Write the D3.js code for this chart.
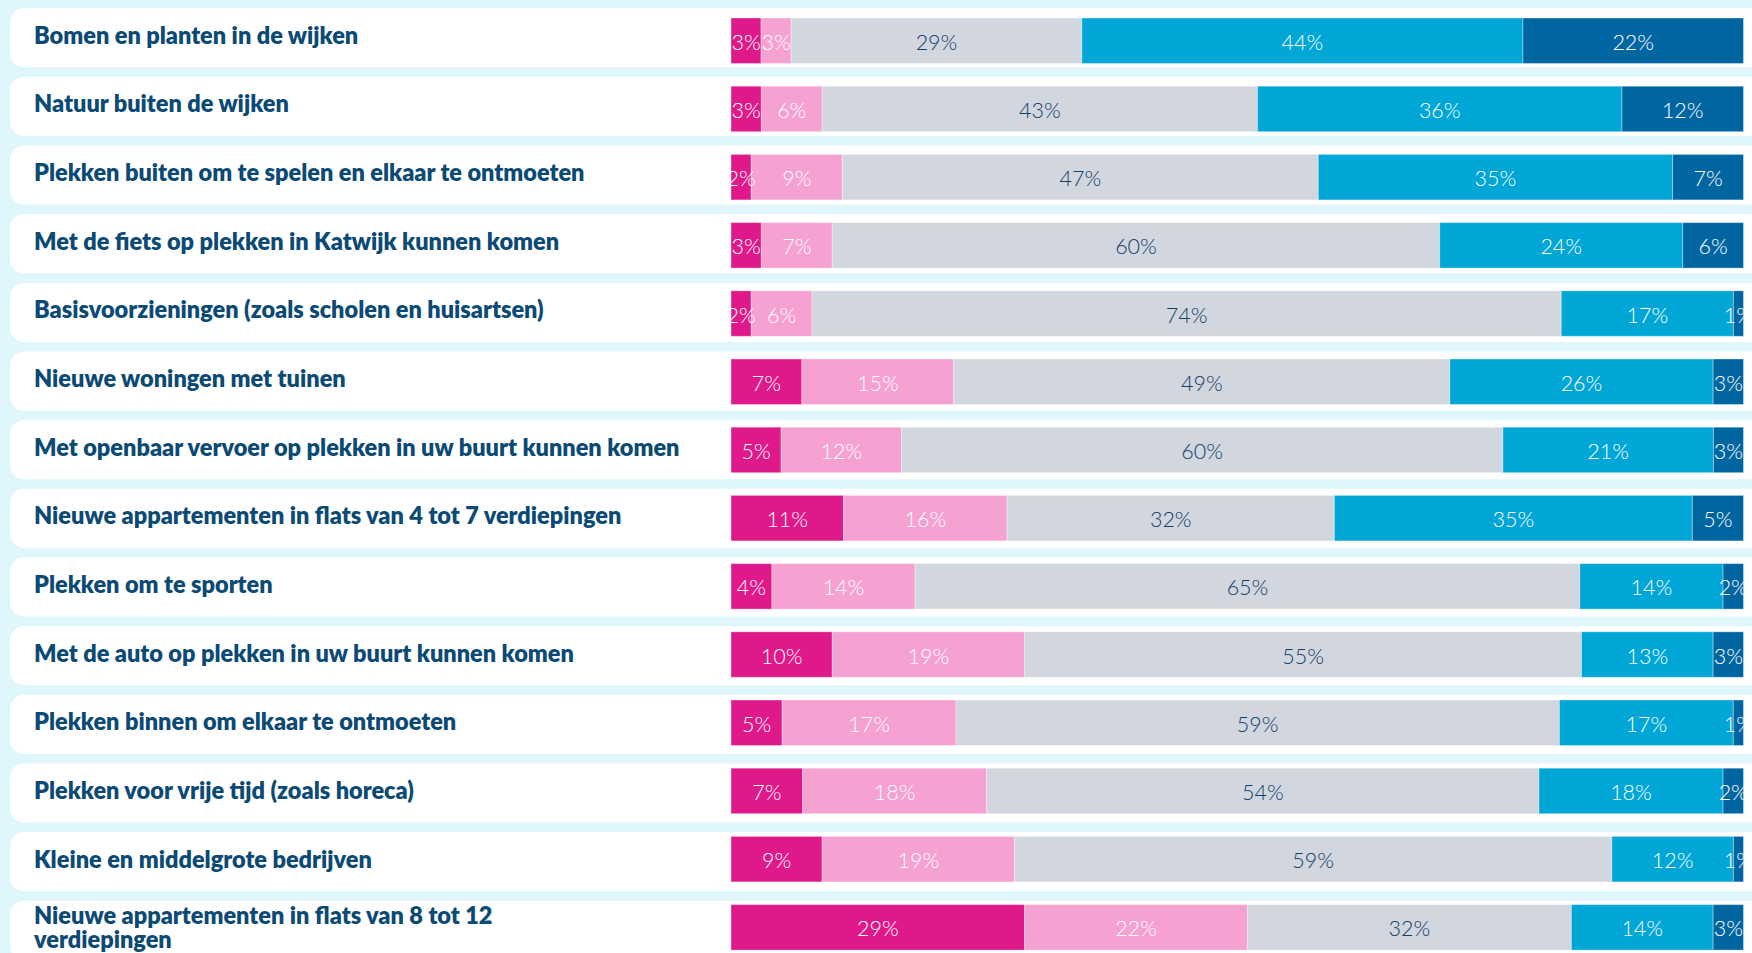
<!DOCTYPE html>
<html>
<head>
<meta charset="utf-8">
<script src="https://cdn.jsdelivr.net/npm/d3@7"></script>
<style>
  html, body { margin: 0; padding: 0; background: #e0f6fd; overflow: hidden; }
  svg { display: block; }
</style>
</head>
<body>
<svg></svg>
<script>
// rows, top to bottom
let categories = [
  'Bomen en planten in de wijken',
  'Natuur buiten de wijken',
  'Plekken buiten om te spelen en elkaar te ontmoeten',
  'Met de fiets op plekken in Katwijk kunnen komen',
  'Basisvoorzieningen (zoals scholen en huisartsen)',
  'Nieuwe woningen met tuinen',
  'Met openbaar vervoer op plekken in uw buurt kunnen komen',
  'Nieuwe appartementen in flats van 4 tot 7 verdiepingen',
  'Plekken om te sporten',
  'Met de auto op plekken in uw buurt kunnen komen',
  'Plekken binnen om elkaar te ontmoeten',
  'Plekken voor vrije tijd (zoals horeca)',
  'Kleine en middelgrote bedrijven',
  'Nieuwe appartementen in flats van 8 tot 12\nverdiepingen'
];

// one array per answer, left to right in the bar
let veelMinder = [3, 3, 2, 3, 2, 7, 5, 11, 4, 10, 5, 7, 9, 29];
let minder     = [3, 6, 9, 7, 6, 15, 12, 16, 14, 19, 17, 18, 19, 22];
let evenveel   = [29, 43, 47, 60, 74, 49, 60, 32, 65, 55, 59, 54, 59, 32];
let meer       = [44, 36, 35, 24, 17, 26, 21, 35, 14, 13, 17, 18, 12, 14];
let veelMeer   = [22, 12, 7, 6, 1, 3, 3, 5, 2, 3, 1, 2, 1, 3];

let series = [veelMinder, minder, evenveel, meer, veelMeer];
let colors = ['#e0198b', '#f5a1d1', '#d2d6df', '#00a6d6', '#0066a1'];
let textColors = ['#ffffff', '#ffffff', '#0f4169', '#ffffff', '#ffffff'];

let svgWidth = 1752, svgHeight = 953;
let barLeft = 731, barRight = 1743.5;

let svg = d3.select('svg')
            .attr('width', svgWidth)
            .attr('height', svgHeight);

let cardScale = d3.scaleBand()
                  .domain(categories)
                  .range([8.3, 8.3 + 13 * 68.65 + 59])
                  .paddingInner(9.65 / 68.65)
                  .paddingOuter(0);

let yScale = d3.scaleBand()
               .domain(categories)
               .range([18, 18 + 13 * 68.2 + 45.5])
               .paddingInner(22.7 / 68.2)
               .paddingOuter(0);

svg.append('defs').append('clipPath')
   .attr('id', 'barclip')
   .append('rect')
   .attr('x', barLeft)
   .attr('y', 0)
   .attr('width', barRight - barLeft)
   .attr('height', svgHeight);

// white cards
svg.selectAll('rect.card')
   .data(categories)
   .enter()
   .append('rect')
   .attr('class', 'card')
   .attr('x', 10)
   .attr('y', (d) => cardScale(d))
   .attr('width', svgWidth + 20)
   .attr('height', cardScale.bandwidth())
   .attr('rx', 14)
   .attr('fill', '#ffffff');

// row labels
let labels = svg.selectAll('text.label')
   .data(categories)
   .enter()
   .append('text')
   .attr('class', 'label')
   .attr('x', 34)
   .attr('font-family', 'Lato, sans-serif')
   .attr('font-weight', 800)
   .attr('font-size', 23.5)
   .attr('fill', '#0b4a74');

labels.each(function (d) {
  let lines = d.split('\n');
  let base = cardScale(d) + 35.5 - (lines.length - 1) * 12;
  d3.select(this).selectAll('tspan')
    .data(lines)
    .enter()
    .append('tspan')
    .attr('x', 34)
    .attr('y', (l, i) => base + i * 24)
    .text((l) => l);
});

// stacked bars
let rows = categories.map((c, i) => {
  let values = series.map((s) => s[i]);
  let total = d3.sum(values);
  let x = d3.scaleLinear().domain([0, total]).range([barLeft, barRight]);
  let acc = 0;
  let segs = values.map((v, k) => {
    let seg = { k: k, v: v, x0: x(acc), x1: x(acc + v) };
    acc += v;
    return seg;
  });
  return { cat: c, segs: segs };
});

let rowGroups = svg.selectAll('g.row')
   .data(rows)
   .enter()
   .append('g')
   .attr('class', 'row')
   .attr('transform', (d) => 'translate(0,' + yScale(d.cat) + ')');

rowGroups.selectAll('rect')
   .data((d) => d.segs)
   .enter()
   .append('rect')
   .attr('x', (d) => d.x0)
   .attr('width', (d) => d.x1 - d.x0)
   .attr('y', 0)
   .attr('height', yScale.bandwidth())
   .attr('fill', (d) => colors[d.k])
   .attr('stroke', '#ffffff')
   .attr('stroke-opacity', 0.35)
   .attr('stroke-width', 1);

rowGroups.append('g')
   .attr('clip-path', 'url(#barclip)')
   .selectAll('text')
   .data((d) => d.segs)
   .enter()
   .append('text')
   .attr('x', (d) => (d.x0 + d.x1) / 2)
   .attr('y', yScale.bandwidth() / 2 + 1)
   .attr('text-anchor', 'middle')
   .attr('dominant-baseline', 'central')
   .attr('font-family', 'Lato, sans-serif')
   .attr('font-weight', 300)
   .attr('font-size', 21.5)
   .attr('fill', (d) => textColors[d.k])
   .text((d) => d.v + '%');
</script>
</body>
</html>
